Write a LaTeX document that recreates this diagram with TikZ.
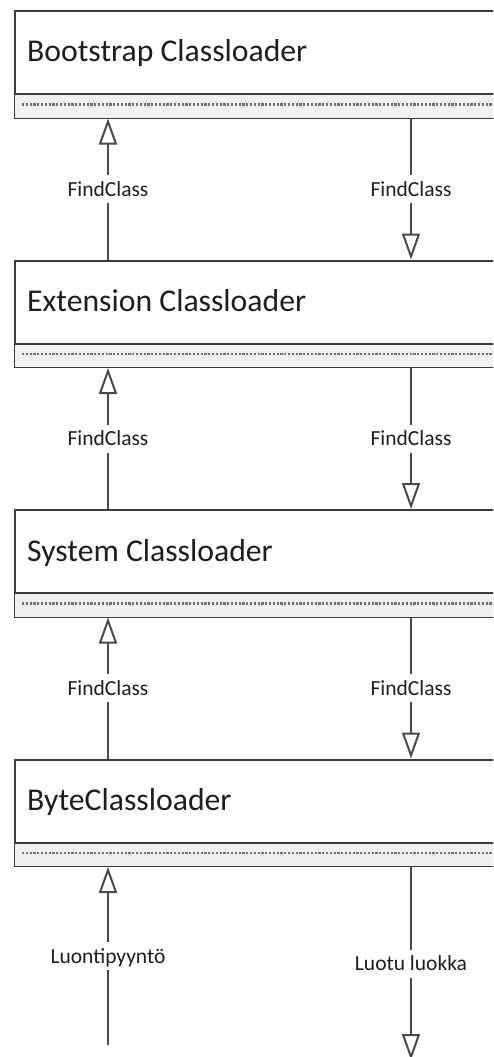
\documentclass[tikz,border=0pt]{standalone}
\usepackage{fontspec}
\setmainfont{Carlito}
\usetikzlibrary{arrows.meta,calc}
\definecolor{edge}{HTML}{3C3C3C}
\definecolor{lineg}{HTML}{4A4A4A}
\definecolor{comp}{HTML}{F0F0F0}
\definecolor{dotc}{HTML}{707070}
\definecolor{txt}{HTML}{1E1E1E}
\begin{document}
\begin{tikzpicture}[x=1pt,y=-1pt,
  box/.style={draw=edge, line width=2pt, rectangle, anchor=north west,
    minimum width=520pt, minimum height=106.5pt, inner sep=0pt, fill=white},
  ttl/.style={anchor=base west, font=\fontsize{31.7}{36}\selectfont, text=txt, inner sep=0pt},
  lbl/.style={font=\fontsize{21.5}{24}\selectfont, text=txt, fill=white,
    inner xsep=2pt, inner ysep=7pt, text height=14pt, text depth=0pt},
  conn/.style={draw=lineg, line width=2pt},
  tri/.style={-{Triangle[open, width=18pt, length=26pt]}},
]
\useasboundingbox (0,0) rectangle (493,1057);
\clip (0,0) rectangle (493,1057);
\fill[white] (0,0) rectangle (493,1057);
\foreach \i/\t/\nm in {0/{Bootstrap Classloader}/b1,1/{Extension Classloader}/b2,2/{System Classloader}/b3,3/{ByteClassloader}/b4}{
  \pgfmathsetmacro\yy{10+249.5*\i}
  \node[box] (\nm) at (14,\yy) {};
  \fill[comp] ($(\nm.north west)+(1,85)$) rectangle ($(\nm.south east)+(-1,-1)$);
  \draw[edge, line width=2pt] ($(\nm.north west)+(0,84)$) -- ($(\nm.north east)+(0,84)$);
  \draw[dotc, line width=2.4pt, dash pattern=on 2.2pt off 1.6pt] ($(\nm.north west)+(8,94.5)$) -- ($(\nm.north east)+(0,94.5)$);
  \node[ttl] (\nm t) at ($(\nm.north west)+(13,52)$) {\t};
}
\coordinate (lx) at (108,0);
\coordinate (rx) at (411,0);
\coordinate (inEnd) at (108,1045);
\coordinate (outEnd) at (411,1060);
\draw[conn,tri] (b2.north -| lx) -- node[lbl]{FindClass} (b1.south -| lx);
\draw[conn,tri] (b1.south -| rx) -- node[lbl]{FindClass} (b2.north -| rx);
\draw[conn,tri] (b3.north -| lx) -- node[lbl]{FindClass} (b2.south -| lx);
\draw[conn,tri] (b2.south -| rx) -- node[lbl]{FindClass} (b3.north -| rx);
\draw[conn,tri] (b4.north -| lx) -- node[lbl]{FindClass} (b3.south -| lx);
\draw[conn,tri] (b3.south -| rx) -- node[lbl]{FindClass} (b4.north -| rx);
\draw[conn,tri] (inEnd) -- node[lbl]{Luontipyyntö} (b4.south -| lx);
\draw[conn,tri] (b4.south -| rx) -- node[lbl]{Luotu luokka} (outEnd);
\end{tikzpicture}
\end{document}
